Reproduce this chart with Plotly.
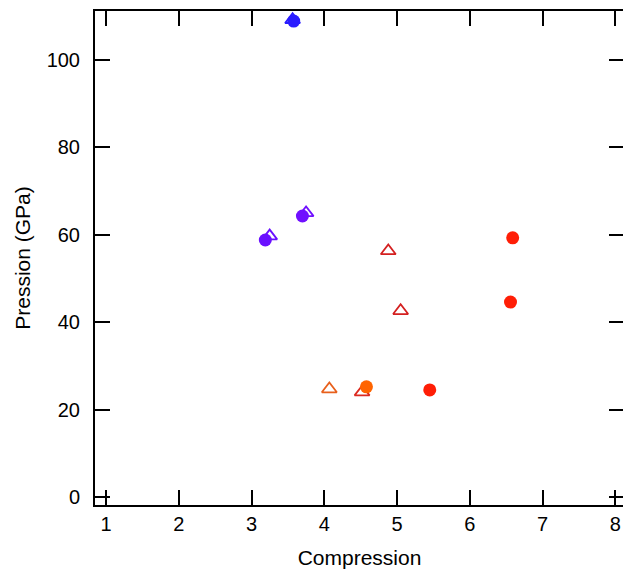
import plotly.graph_objects as go

# Data
circle_x = [3.58, 3.19, 3.70, 4.58, 6.59, 6.56, 5.45]
circle_y = [108.9, 58.8, 64.3, 25.2, 59.3, 44.6, 24.5]
circle_colors = ["#2a1cff", "#6a10ff", "#7010ff", "#ff6400", "#ff1e06", "#ff1e06", "#ff1e06"]

tri_x = [3.565, 3.25, 3.75, 4.07, 4.52, 4.88, 5.05]
tri_y = [109.2, 59.7, 65.0, 24.7, 24.0, 56.3, 42.6]
tri_colors = ["#2a1cff", "#6a10ff", "#7010ff", "#e8601c", "#dc2a20", "#d42020", "#d42020"]

x_ticks = [1, 2, 3, 4, 5, 6, 7, 8]
y_ticks = [0, 20, 40, 60, 80, 100]

fig = go.Figure()
fig.add_trace(go.Scatter(
    x=tri_x, y=tri_y, mode="markers",
    marker=dict(symbol="triangle-up-open", size=13, color=tri_colors,
                line=dict(width=1.8, color=tri_colors)),
    showlegend=False, hoverinfo="x+y"))
fig.add_trace(go.Scatter(
    x=circle_x, y=circle_y, mode="markers",
    marker=dict(symbol="circle", size=13, color=circle_colors, line=dict(width=0)),
    showlegend=False, hoverinfo="x+y"))

font = "Liberation Sans, Arial, sans-serif"
axis_common = dict(
    showline=True, linecolor="black", linewidth=2, mirror="ticks",
    ticks="inside", ticklen=15, tickwidth=2, tickcolor="black",
    showgrid=False, zeroline=False,
    tickfont=dict(family=font, size=20, color="black"),
)
fig.update_xaxes(
    range=[0.849, 8.12], tickvals=x_ticks, ticktext=[str(v) for v in x_ticks],
    ticklabelstandoff=0,
    title=dict(text="Compression", font=dict(family=font, size=21, color="black"), standoff=16),
    **axis_common)
fig.update_yaxes(
    range=[-1.83, 111.2], tickvals=y_ticks, ticktext=[str(v) for v in y_ticks],
    ticklabelstandoff=9,
    title=dict(text="Pression (GPa)", font=dict(family=font, size=21, color="black"), standoff=10),
    **axis_common)

fig.update_layout(
    width=626, height=576, autosize=False,
    margin=dict(l=95, r=0, t=11, b=71),
    paper_bgcolor="white", plot_bgcolor="white",
)

fig.write_html("out.html", include_plotlyjs=True, config={"displayModeBar": False},
               post_script="document.body.style.margin='0';document.body.style.overflow='hidden';")
